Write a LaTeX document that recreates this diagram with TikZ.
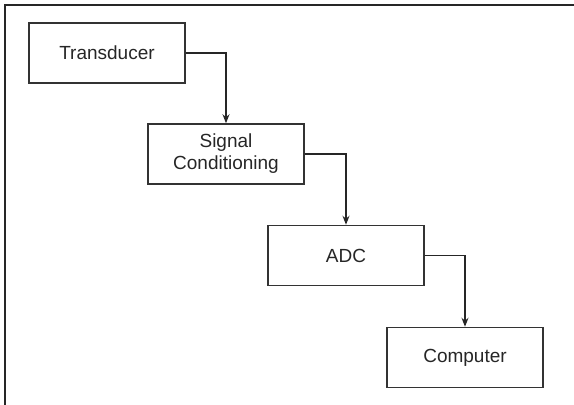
\documentclass[tikz,border=0pt]{standalone}
\usepackage{fontspec}
\setmainfont{Liberation Sans}
\usetikzlibrary{arrows.meta}
\begin{document}
\begin{tikzpicture}[x=1pt,y=-1pt,
  blk/.style={draw=black!80, line width=1.5pt, minimum width=156pt, minimum height=60pt, inner sep=0pt, align=center, font=\fontsize{19}{22}\selectfont, text=black!85},
  conn/.style={draw=black!85, line width=1.3pt, -{Stealth[length=9pt,width=7pt]}}]
\useasboundingbox (0,0) rectangle (574,405);
\draw[black!85, line width=2pt] (574,5) -- (5,5) -- (5,405);
\node[blk] (t) at (107,53) {Transducer};
\node[blk] (s) at (226,154) {Signal\\Conditioning};
\node[blk] (a) at (346,255.5) {ADC};
\node[blk] (c) at (465,357.5) {Computer};
\draw[conn] (t.east) -| (s.north);
\draw[conn] (s.east) -| (a.north);
\draw[conn] (a.east) -| (c.north);
\end{tikzpicture}
\end{document}
